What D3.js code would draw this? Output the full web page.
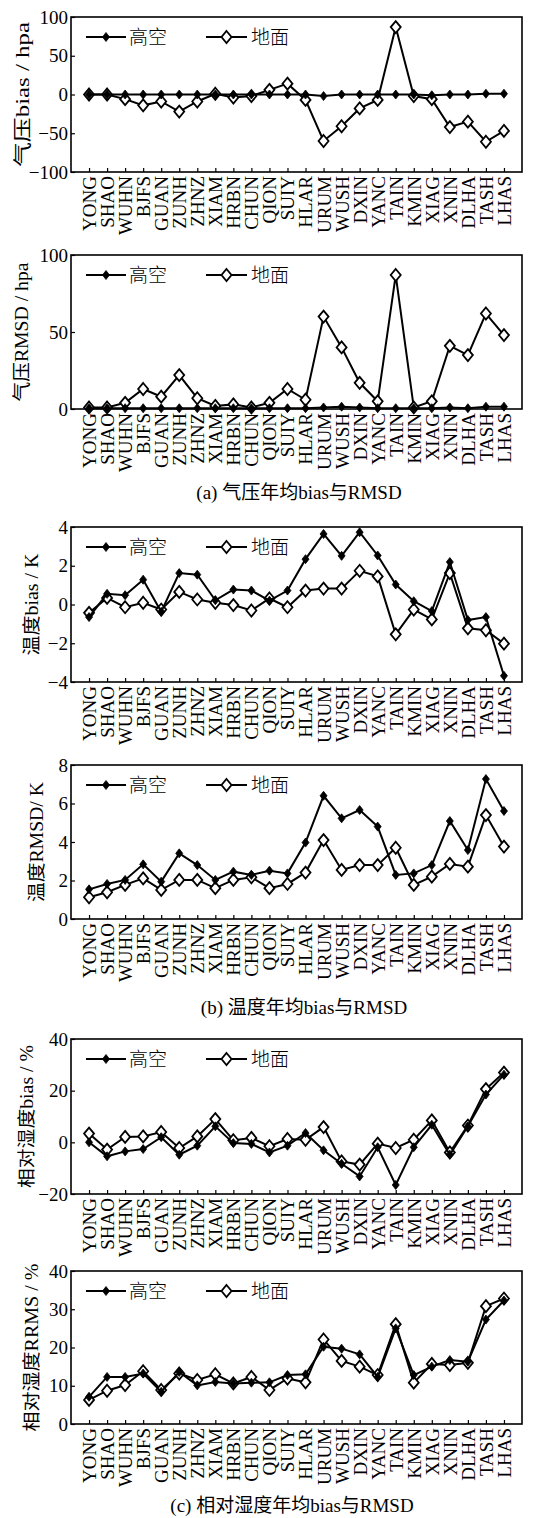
<!DOCTYPE html>
<html>
<head>
<meta charset="utf-8">
<script src="https://cdn.jsdelivr.net/npm/d3@7"></script>
<style>
  body { margin: 0; background: #fff; }
  text { font-family: "Liberation Serif", "Noto Sans CJK SC", serif; fill: #000; }
</style>
</head>
<body>
<script>
// stations along the x axis
const stations = ["YONG","SHAO","WUHN","BJFS","GUAN","ZUNH","ZHNZ","XIAM","HRBN","CHUN","QION","SUIY",
  "HLAR","URUM","WUSH","DXIN","YANC","TAIN","KMIN","XIAG","XNIN","DLHA","TASH","LHAS"];

const seriesNames = ["高空", "地面"];

// (a) pressure
const presBiasUpper   = [0,0,0,0,0,0,0,0,0,0,0,0,0,-2,0,0,0,0,0,-1,0,0,1,1];
const presBiasSurface = [0,0,-6,-14,-9,-22,-9,1,-4,-2,6,14,-7,-60,-41,-18,-7,87,-2,-6,-42,-35,-61,-47];
const presRmsdUpper   = [0.5,0.5,0.5,0.5,0.5,0.5,0.5,0.5,0.5,0.5,0.5,0.5,0.5,1,1.5,1,0.5,0.5,0.5,0.5,1,0.5,1.5,1.5];
const presRmsdSurface = [1,1,4,13,8,22,7,2,3,1,4,13,6,60,40,17,5,87,1,5,41,35,62,48];

// (b) temperature
const tempBiasUpper   = [-0.65,0.55,0.48,1.28,-0.38,1.62,1.54,0.22,0.77,0.72,0.2,0.72,2.34,3.64,2.51,3.73,2.53,1.03,0.17,-0.34,2.19,-0.8,-0.65,-3.68];
const tempBiasSurface = [-0.43,0.34,-0.14,0.09,-0.26,0.65,0.26,0.09,-0.03,-0.31,0.31,-0.14,0.72,0.82,0.82,1.74,1.45,-1.54,-0.26,-0.77,1.62,-1.23,-1.33,-2.02];
const tempRmsdUpper   = [1.54,1.82,2.03,2.84,1.94,3.41,2.8,2.03,2.46,2.29,2.51,2.37,3.97,6.4,5.23,5.66,4.8,2.29,2.37,2.8,5.09,3.58,7.27,5.61];
const tempRmsdSurface = [1.13,1.39,1.77,2.11,1.51,2.03,2.03,1.6,2.03,2.17,1.6,1.82,2.41,4.1,2.55,2.8,2.8,3.7,1.77,2.2,2.86,2.72,5.4,3.76];

// (c) relative humidity
const rhBiasUpper   = [0,-5.4,-3.5,-2.6,2,-4.8,-1.3,6.2,-0.3,-0.6,-3.9,-1.3,3.6,-3.1,-8.3,-13.2,-1.9,-16.5,-1.9,6.8,-4.8,6.2,18.5,26.2];
const rhBiasSurface = [3.4,-2.8,2.1,2.3,4,-2.2,2.3,9,0.8,1.7,-1.5,1.3,1,5.9,-7.4,-8.6,-0.5,-2.2,1,8.5,-3.9,6.5,20.6,27];
const rhRmsUpper    = [7.1,12.3,12.3,13.2,8.4,13.6,10.1,11,10.6,10.8,10.9,12.8,13,20.2,19.7,18.2,12.3,25,12.8,15,16.7,16.3,27.3,32.3];
const rhRmsSurface  = [6.3,8.7,10.2,13.8,8.9,13.2,11.5,13,10.6,12.3,8.9,11.9,10.9,22.1,16.5,15,12.8,26.1,10.8,15.7,15.4,16,30.8,32.8];

// y ticks
const ticksPresBias = [-100,-50,0,50,100];
const ticksPresRmsd = [0,50,100];
const ticksTempBias = [-4,-2,0,2,4];
const ticksTempRmsd = [0,2,4,6,8];
const ticksRhBias   = [-20,0,20,40];
const ticksRhRms    = [0,10,20,30,40];

const captions = ["(a) 气压年均bias与RMSD", "(b) 温度年均bias与RMSD", "(c) 相对湿度年均bias与RMSD"];

// ---------------------------//
//       LAYOUT               //
// ---------------------------//
const W = 550, H = 1518;
const left = 71, right = 522;

const panels = [
  {top: 17,   bottom: 172,  ticks: ticksPresBias, upper: presBiasUpper, surface: presBiasSurface, title: "气压bias / hpa",   tx: 23, tlen: 145},
  {top: 255,  bottom: 409,  ticks: ticksPresRmsd, upper: presRmsdUpper, surface: presRmsdSurface, title: "气压RMSD / hpa",   tx: 22, tlen: 139},
  {top: 527,  bottom: 682,  ticks: ticksTempBias, upper: tempBiasUpper, surface: tempBiasSurface, title: "温度bias / K",     tx: 32, tlen: 102},
  {top: 765,  bottom: 919,  ticks: ticksTempRmsd, upper: tempRmsdUpper, surface: tempRmsdSurface, title: "温度RMSD/ K",      tx: 37, tlen: 120},
  {top: 1039, bottom: 1194, ticks: ticksRhBias,   upper: rhBiasUpper,   surface: rhBiasSurface,   title: "相对湿度bias / %",  tx: 27, tlen: 143},
  {top: 1271, bottom: 1424, ticks: ticksRhRms,    upper: rhRmsUpper,    surface: rhRmsSurface,    title: "相对湿度RRMS / %",  tx: 32, tlen: 168}
];
const captionPos = [{x: 299, y: 492}, {x: 304, y: 1007}, {x: 292, y: 1505}];

const svg = d3.select("body").append("svg")
    .attr("width", W)
    .attr("height", H);

svg.append("rect").attr("width", W).attr("height", H).attr("fill", "#fff");

// marker paths
const filledDiamond = (cx, cy) => `M${cx},${cy-4.5}L${cx+3.5},${cy}L${cx},${cy+4.5}L${cx-3.5},${cy}Z`;
const openDiamond = (cx, cy) => `M${cx},${cy-6}L${cx+5},${cy}L${cx},${cy+6}L${cx-5},${cy}Z`;

function drawPanel(p) {
    const x = d3.scalePoint().domain(stations).range([left, right]).padding(1);
    const y = d3.scaleLinear().domain(d3.extent(p.ticks)).range([p.bottom, p.top]);
    const g = svg.append("g");

    // Y axis, ticks pointing inward
    const ya = g.append("g")
        .attr("transform", `translate(${left},0)`)
        .call(d3.axisLeft(y).tickValues(p.ticks).tickSize(-4).tickPadding(3));
    ya.select(".domain").remove();
    ya.selectAll("line").attr("stroke", "#000").attr("stroke-width", 1.2);
    ya.selectAll("text")
        .attr("font-size", 19)
        .attr("font-family", "Liberation Serif, serif");

    // X axis, rotated labels
    const xa = g.append("g")
        .attr("transform", `translate(0,${p.bottom})`)
        .call(d3.axisBottom(x).tickSize(-4).tickPadding(0));
    xa.select(".domain").remove();
    xa.selectAll("line").attr("stroke", "#000").attr("stroke-width", 1.2);
    xa.selectAll("text")
        .attr("font-size", 19)
        .attr("font-family", "Liberation Serif, serif")
        .attr("transform", "rotate(-90)")
        .attr("text-anchor", "end")
        .attr("x", -4)
        .attr("y", 0)
        .attr("dy", "0.34em");

    // frame
    g.append("rect")
        .attr("x", left).attr("y", p.top)
        .attr("width", right - left).attr("height", p.bottom - p.top)
        .attr("fill", "none").attr("stroke", "#000").attr("stroke-width", 1.6);

    // y title
    const cy = (p.top + p.bottom) / 2;
    g.append("text")
        .attr("transform", `translate(${p.tx},${cy}) rotate(-90)`)
        .attr("text-anchor", "middle")
        .attr("dy", "0.35em")
        .attr("font-size", 18)
        .attr("textLength", p.tlen)
        .attr("lengthAdjust", "spacingAndGlyphs")
        .text(p.title);

    const line = d3.line()
        .x((d, i) => x(stations[i]))
        .y(d => y(d));

    // surface series first, upper-air on top
    g.append("path").datum(p.surface)
        .attr("d", line).attr("fill", "none").attr("stroke", "#000").attr("stroke-width", 2);
    g.selectAll(".msurf").data(p.surface).enter().append("path")
        .attr("class", "msurf")
        .attr("d", (d, i) => openDiamond(x(stations[i]), y(d)))
        .attr("fill", "#fff").attr("stroke", "#000").attr("stroke-width", 1.8);

    g.append("path").datum(p.upper)
        .attr("d", line).attr("fill", "none").attr("stroke", "#000").attr("stroke-width", 2);
    g.selectAll(".mup").data(p.upper).enter().append("path")
        .attr("class", "mup")
        .attr("d", (d, i) => filledDiamond(x(stations[i]), y(d)))
        .attr("fill", "#000").attr("stroke", "#000").attr("stroke-width", 0.8);

    // legend
    const ly = p.top + 20;
    const lg = g.append("g");
    [{x0: 86, x1: 126, tx: 129, marker: filledDiamond, fill: "#000", sw: 0.8},
     {x0: 206, x1: 247, tx: 251, marker: openDiamond, fill: "#fff", sw: 1.8}].forEach((l, k) => {
        lg.append("line")
            .attr("x1", l.x0).attr("x2", l.x1).attr("y1", ly).attr("y2", ly)
            .attr("stroke", "#000").attr("stroke-width", 2);
        lg.append("path")
            .attr("d", l.marker((l.x0 + l.x1) / 2, ly))
            .attr("fill", l.fill).attr("stroke", "#000").attr("stroke-width", l.sw);
        lg.append("text")
            .attr("x", l.tx).attr("y", ly)
            .attr("dy", "0.36em")
            .attr("font-size", 19)
            .attr("font-family", "Noto Sans CJK SC")
            .attr("font-weight", 300)
            .text(seriesNames[k]);
    });
}

panels.forEach(drawPanel);

// captions
captions.forEach((c, i) => {
    svg.append("text")
        .attr("x", captionPos[i].x).attr("y", captionPos[i].y)
        .attr("text-anchor", "middle")
        .attr("dy", "0.35em")
        .attr("font-size", 19)
        .text(c);
});
</script>
</body>
</html>
